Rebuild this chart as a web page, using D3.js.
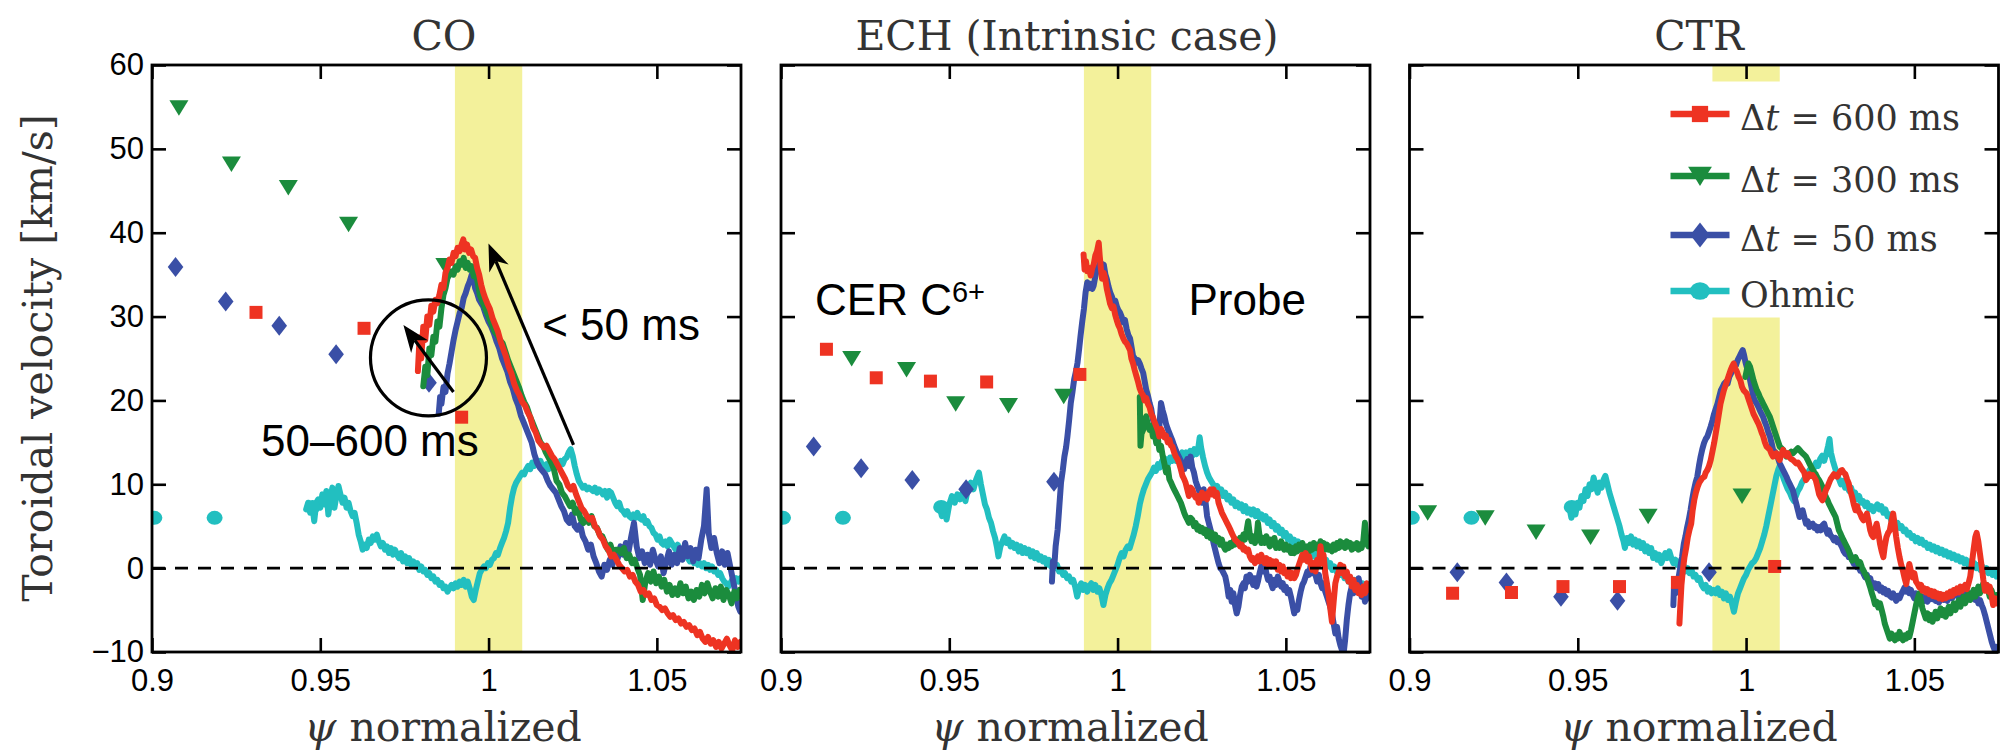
<!DOCTYPE html>
<html>
<head>
<meta charset="utf-8">
<script src="https://cdn.jsdelivr.net/npm/d3@7"></script>
<style>
  body { margin: 0; background: #fff; }
  svg { display: block; }
</style>
</head>
<body>
<svg id="chart" width="2004" height="753"></svg>
<script>
// ---------- axes, labels ----------
const psiDomain = [0.9, 1.075];
const velDomain = [-10, 60];
const xTickValues = [0.9, 0.95, 1, 1.05];
const xTickLabels = ["0.9", "0.95", "1", "1.05"];
const yTickValues = [-10, 0, 10, 20, 30, 40, 50, 60];
const separatrixBand = [0.99, 1.01];
const panelTitles = ["CO", "ECH (Intrinsic case)", "CTR"];
const legendLabels = [["600 ms"], ["300 ms"], ["50 ms"], ["Ohmic"]];

// ---------- CER C6+ points (psi, km/s) ----------
const coCer600 = [[0.9309,30.5],[0.9630,28.6],[0.9920,18.0]];
const coCer300 = [[0.9080,54.9],[0.9236,48.2],[0.9405,45.4],[0.9584,41.0],[0.9870,36.1]];
const coCer50 = [[0.9070,35.9],[0.9219,31.8],[0.9378,28.9],[0.9547,25.5],[0.9823,22.1]];
const coCerOhmic = [[0.9007,6.0],[0.9186,6.0],[0.9477,7.3]];

const echCer600 = [[0.9135,26.1],[0.9283,22.7],[0.9444,22.3],[0.9611,22.2],[0.9888,23.1]];
const echCer300 = [[0.9210,25.0],[0.9373,23.7],[0.9519,19.6],[0.9676,19.4],[0.9840,20.5]];
const echCer50 = [[0.9097,14.5],[0.9238,11.9],[0.9390,10.5],[0.9550,9.4],[0.9811,10.3]];
const echCerOhmic = [[0.9006,6.0],[0.9184,6.0],[0.9476,7.3]];

const ctrCer600 = [[0.9128,-3.0],[0.9303,-2.9],[0.9456,-2.2],[0.9624,-2.2],[0.9796,-1.7],[1.0085,0.2]];
const ctrCer300 = [[0.9054,6.6],[0.9225,6.0],[0.9376,4.3],[0.9538,3.7],[0.9709,6.2],[0.9988,8.6]];
const ctrCer50 = [[0.9142,-0.5],[0.9288,-1.7],[0.9450,-3.4],[0.9618,-3.9],[0.9890,-0.5]];
const ctrCerOhmic = [[0.9007,6.0],[0.9184,6.0],[0.9482,7.3]];

// ---------- probe profiles (psi, km/s) ----------
const coProbe600 = [[0.9790,23.5],[0.9795,27.5],[0.9800,25.0],[0.9806,28.8],[0.9812,27.2],[0.9818,30.0],[0.9824,29.0],[0.9830,31.3],[0.9836,30.6],[0.9842,32.0],[0.9848,31.6],[0.9854,32.6],[0.9860,33.8],[0.9866,33.4],[0.9872,35.2],[0.9878,35.8],[0.9884,36.8],[0.9890,36.4],[0.9896,37.6],[0.9902,37.2],[0.9908,38.2],[0.9914,37.8],[0.9920,38.6],[0.9925,39.2],[0.9930,38.0],[0.9936,38.6],[0.9942,37.6],[0.9948,38.0],[0.9954,37.2],[0.9960,37.0],[0.9966,35.8],[0.9972,35.0],[0.9978,33.8],[0.9984,32.9],[0.9990,32.2],[0.9996,31.6],[1.0004,30.9],[1.0012,29.8],[1.0020,29.0],[1.0028,28.2],[1.0036,27.0],[1.0044,26.1],[1.0052,25.2],[1.0060,24.0],[1.0068,23.2],[1.0076,22.0],[1.0084,21.2],[1.0092,20.6],[1.0100,19.8],[1.0108,19.4],[1.0116,18.6],[1.0124,18.0],[1.0132,16.8],[1.0140,16.2],[1.0148,15.2],[1.0156,14.8],[1.0164,14.4],[1.0172,14.6],[1.0180,14.0],[1.0188,13.4],[1.0196,13.0],[1.0204,12.4],[1.0212,11.8],[1.0220,11.2],[1.0228,10.6],[1.0236,9.8],[1.0244,9.4],[1.0252,9.8],[1.0260,8.8],[1.0268,8.0],[1.0276,7.2],[1.0284,6.8],[1.0292,6.2],[1.0300,5.8],[1.0308,6.0],[1.0316,5.0],[1.0324,4.6],[1.0332,3.8],[1.0340,3.4],[1.0348,2.6],[1.0356,2.2],[1.0364,1.4],[1.0372,1.6],[1.0380,1.0],[1.0388,0.4],[1.0396,0.0],[1.0404,-0.4],[1.0412,-0.2],[1.0420,-1.0],[1.0428,-0.8],[1.0436,-1.6],[1.0444,-2.0],[1.0452,-2.8],[1.0460,-2.6],[1.0468,-3.2],[1.0476,-3.0],[1.0484,-3.8],[1.0492,-3.6],[1.0500,-4.4],[1.0508,-4.6],[1.0516,-5.0],[1.0524,-4.8],[1.0532,-5.4],[1.0540,-5.8],[1.0548,-5.6],[1.0556,-6.2],[1.0564,-6.0],[1.0572,-6.6],[1.0580,-6.4],[1.0588,-7.0],[1.0596,-6.8],[1.0604,-7.4],[1.0612,-7.2],[1.0620,-8.0],[1.0628,-7.6],[1.0636,-8.4],[1.0644,-8.8],[1.0652,-8.2],[1.0660,-9.0],[1.0668,-8.6],[1.0676,-9.4],[1.0684,-8.8],[1.0692,-9.6],[1.0700,-9.0],[1.0708,-8.4],[1.0716,-9.2],[1.0724,-9.8],[1.0732,-8.6],[1.0740,-9.4],[1.0748,-8.8]];

const coProbe300 = [[0.9806,21.7],[0.9812,24.0],[0.9818,23.0],[0.9824,26.2],[0.9830,25.4],[0.9836,27.6],[0.9842,27.0],[0.9848,29.4],[0.9854,28.8],[0.9860,31.0],[0.9866,32.6],[0.9872,33.4],[0.9878,34.6],[0.9884,35.0],[0.9890,35.4],[0.9896,35.0],[0.9902,36.0],[0.9908,35.6],[0.9914,36.6],[0.9920,36.2],[0.9926,37.0],[0.9932,35.8],[0.9938,36.4],[0.9944,35.6],[0.9950,36.0],[0.9956,34.8],[0.9962,35.2],[0.9968,34.0],[0.9974,32.6],[0.9980,32.0],[0.9986,31.4],[0.9994,30.6],[1.0002,29.8],[1.0010,29.0],[1.0018,28.2],[1.0026,27.8],[1.0034,27.2],[1.0042,26.8],[1.0050,25.8],[1.0058,24.8],[1.0066,24.0],[1.0074,23.2],[1.0082,22.4],[1.0090,21.6],[1.0098,20.6],[1.0106,19.8],[1.0114,19.2],[1.0122,18.2],[1.0130,17.4],[1.0138,16.6],[1.0146,15.8],[1.0154,15.0],[1.0162,14.6],[1.0170,13.8],[1.0178,13.2],[1.0186,12.6],[1.0194,11.8],[1.0202,10.4],[1.0210,10.0],[1.0218,9.0],[1.0226,8.6],[1.0234,8.0],[1.0242,7.4],[1.0250,7.8],[1.0258,6.6],[1.0266,7.0],[1.0274,5.8],[1.0282,5.4],[1.0290,6.0],[1.0298,5.4],[1.0306,6.2],[1.0314,5.0],[1.0322,4.8],[1.0330,4.0],[1.0338,3.8],[1.0346,3.0],[1.0354,2.2],[1.0362,2.8],[1.0370,1.8],[1.0378,2.2],[1.0386,2.2],[1.0394,1.8],[1.0402,2.4],[1.0410,1.2],[1.0418,1.6],[1.0426,0.6],[1.0434,1.0],[1.0442,0.0],[1.0450,-0.8],[1.0458,-3.8],[1.0466,-1.6],[1.0474,-0.6],[1.0482,-1.6],[1.0490,-0.4],[1.0498,-1.8],[1.0506,-1.0],[1.0514,-2.2],[1.0522,-1.4],[1.0530,-2.8],[1.0538,-2.0],[1.0546,-3.2],[1.0554,-2.4],[1.0562,-3.2],[1.0570,-1.8],[1.0578,-3.0],[1.0586,-2.2],[1.0594,-3.6],[1.0602,-2.8],[1.0610,-3.8],[1.0618,-2.6],[1.0626,-3.4],[1.0634,-2.0],[1.0642,-3.0],[1.0650,-1.8],[1.0658,-2.8],[1.0666,-3.6],[1.0674,-2.4],[1.0682,-3.4],[1.0690,-2.2],[1.0698,-3.8],[1.0706,-2.6],[1.0714,-3.2],[1.0722,-4.2],[1.0730,-2.8],[1.0738,-3.6],[1.0746,-2.6]];

const coProbe50 = [[0.9852,18.4],[0.9856,20.4],[0.9860,19.6],[0.9866,21.6],[0.9872,21.0],[0.9878,23.2],[0.9884,24.4],[0.9890,25.8],[0.9896,27.2],[0.9902,28.4],[0.9908,29.4],[0.9914,30.4],[0.9920,31.0],[0.9926,32.2],[0.9932,32.8],[0.9938,33.6],[0.9944,34.2],[0.9950,35.0],[0.9955,34.6],[0.9960,33.4],[0.9966,32.8],[0.9972,32.0],[0.9978,31.6],[0.9984,31.2],[0.9992,30.2],[1.0000,29.4],[1.0008,28.8],[1.0016,28.0],[1.0024,27.0],[1.0032,26.2],[1.0040,25.0],[1.0048,24.2],[1.0056,23.4],[1.0064,22.2],[1.0072,21.4],[1.0080,20.2],[1.0088,19.4],[1.0096,18.2],[1.0104,17.4],[1.0112,16.6],[1.0120,15.8],[1.0128,15.0],[1.0136,13.6],[1.0144,12.6],[1.0152,12.0],[1.0160,11.6],[1.0168,11.2],[1.0176,10.4],[1.0184,9.8],[1.0192,9.4],[1.0200,9.0],[1.0208,8.2],[1.0216,7.4],[1.0224,6.8],[1.0232,5.8],[1.0240,5.4],[1.0248,6.4],[1.0256,5.0],[1.0264,4.6],[1.0272,5.2],[1.0280,3.8],[1.0288,3.2],[1.0296,2.2],[1.0304,2.8],[1.0312,1.4],[1.0320,0.6],[1.0328,-0.4],[1.0336,-1.0],[1.0344,0.4],[1.0352,-0.2],[1.0360,1.0],[1.0368,0.4],[1.0376,1.8],[1.0384,1.2],[1.0392,2.6],[1.0400,1.6],[1.0408,3.0],[1.0416,2.0],[1.0424,3.8],[1.0432,5.4],[1.0440,2.6],[1.0448,1.2],[1.0456,2.0],[1.0464,0.6],[1.0472,1.6],[1.0480,0.4],[1.0488,2.2],[1.0496,1.0],[1.0504,0.2],[1.0512,1.4],[1.0520,-0.6],[1.0528,0.8],[1.0536,2.0],[1.0544,0.4],[1.0552,1.6],[1.0560,0.6],[1.0568,2.4],[1.0576,1.0],[1.0584,3.0],[1.0592,1.4],[1.0600,2.4],[1.0608,0.8],[1.0616,2.2],[1.0624,1.2],[1.0632,3.4],[1.0640,5.0],[1.0648,9.4],[1.0654,4.2],[1.0662,2.4],[1.0670,3.6],[1.0678,1.8],[1.0686,0.6],[1.0694,2.0],[1.0702,0.4],[1.0710,1.8],[1.0718,0.2],[1.0726,-1.4],[1.0734,-3.0],[1.0742,-4.6],[1.0748,-5.2]];

const coProbeOhmic = [[0.9458,7.0],[0.9464,7.8],[0.9470,6.6],[0.9476,7.6],[0.9482,5.6],[0.9488,7.8],[0.9494,8.2],[0.9500,7.2],[0.9506,8.8],[0.9512,7.6],[0.9518,9.2],[0.9524,6.4],[0.9530,8.4],[0.9536,9.6],[0.9542,7.2],[0.9548,8.6],[0.9554,9.8],[0.9560,8.8],[0.9566,7.8],[0.9572,8.4],[0.9578,7.2],[0.9584,7.8],[0.9590,6.8],[0.9596,6.2],[0.9602,6.6],[0.9608,5.4],[0.9614,4.0],[0.9620,3.2],[0.9626,2.2],[0.9632,2.8],[0.9638,2.4],[0.9644,3.4],[0.9650,3.0],[0.9656,3.8],[0.9662,3.4],[0.9668,4.0],[0.9674,3.2],[0.9680,2.6],[0.9686,3.0],[0.9692,2.2],[0.9698,2.6],[0.9704,1.8],[0.9710,2.4],[0.9716,1.6],[0.9722,2.2],[0.9728,1.6],[0.9734,1.2],[0.9740,1.8],[0.9746,0.8],[0.9752,1.4],[0.9758,0.6],[0.9764,1.2],[0.9770,0.4],[0.9776,0.8],[0.9782,0.2],[0.9788,0.6],[0.9794,-0.2],[0.9800,0.2],[0.9806,-0.4],[0.9812,-0.2],[0.9818,-0.8],[0.9824,-0.6],[0.9830,-1.2],[0.9836,-1.0],[0.9842,-1.6],[0.9848,-1.4],[0.9854,-2.0],[0.9860,-1.8],[0.9866,-2.4],[0.9872,-2.2],[0.9878,-2.8],[0.9884,-2.4],[0.9890,-2.0],[0.9896,-2.4],[0.9902,-1.8],[0.9908,-2.2],[0.9914,-1.6],[0.9920,-2.0],[0.9926,-1.4],[0.9932,-2.2],[0.9938,-1.6],[0.9944,-2.4],[0.9950,-3.4],[0.9956,-3.8],[0.9962,-2.6],[0.9968,-1.6],[0.9974,-0.6],[0.9980,-0.2],[0.9986,0.2],[0.9992,0.0],[0.9998,0.6],[1.0004,0.4],[1.0010,1.0],[1.0016,1.2],[1.0022,1.8],[1.0028,1.6],[1.0034,2.4],[1.0040,3.0],[1.0046,3.6],[1.0052,4.4],[1.0058,5.4],[1.0064,7.2],[1.0070,8.6],[1.0076,9.6],[1.0082,10.2],[1.0088,10.6],[1.0094,11.0],[1.0100,11.4],[1.0106,11.2],[1.0112,11.8],[1.0118,12.2],[1.0124,11.8],[1.0130,12.6],[1.0136,12.2],[1.0142,12.9],[1.0148,12.4],[1.0154,12.8],[1.0160,12.2],[1.0166,12.0],[1.0172,12.4],[1.0178,11.8],[1.0184,12.0],[1.0190,12.4],[1.0196,12.0],[1.0202,12.6],[1.0208,12.2],[1.0214,12.8],[1.0220,12.4],[1.0226,13.0],[1.0232,13.2],[1.0238,13.8],[1.0244,14.2],[1.0250,13.4],[1.0256,12.2],[1.0262,11.2],[1.0268,10.4],[1.0274,10.0],[1.0280,9.6],[1.0286,9.8],[1.0292,9.4],[1.0298,9.6],[1.0304,9.4],[1.0310,9.2],[1.0316,9.6],[1.0322,9.0],[1.0328,9.4],[1.0334,9.2],[1.0340,8.8],[1.0346,9.2],[1.0352,8.4],[1.0358,9.2],[1.0364,9.0],[1.0370,8.4],[1.0376,7.8],[1.0382,7.4],[1.0388,7.8],[1.0394,7.0],[1.0400,6.8],[1.0406,6.4],[1.0412,6.8],[1.0418,6.2],[1.0424,6.0],[1.0430,6.4],[1.0436,6.0],[1.0442,6.6],[1.0448,6.0],[1.0454,5.8],[1.0460,6.2],[1.0466,5.4],[1.0472,5.6],[1.0478,5.0],[1.0484,4.8],[1.0490,4.2],[1.0496,4.0],[1.0502,3.4],[1.0508,3.8],[1.0514,3.0],[1.0520,2.8],[1.0526,3.2],[1.0532,2.6],[1.0538,3.4],[1.0544,3.0],[1.0550,2.6],[1.0556,2.2],[1.0562,2.8],[1.0568,2.2],[1.0574,1.8],[1.0580,2.2],[1.0586,1.6],[1.0592,1.2],[1.0598,0.8],[1.0604,1.2],[1.0610,0.6],[1.0616,1.0],[1.0622,0.4],[1.0628,0.6],[1.0634,0.2],[1.0640,0.6],[1.0646,0.0],[1.0652,0.4],[1.0658,-0.2],[1.0664,0.2],[1.0670,-0.4],[1.0676,-0.2],[1.0682,-0.8],[1.0688,-0.6],[1.0694,-1.2],[1.0700,-1.6],[1.0706,-1.8],[1.0712,-2.2],[1.0718,-1.8],[1.0724,-1.4],[1.0730,-1.8],[1.0736,-1.2],[1.0742,-1.6],[1.0748,-1.2]];

const echProbe600 = [[0.9899,37.4],[0.9902,35.6],[0.9906,36.6],[0.9910,35.4],[0.9915,35.8],[0.9920,34.9],[0.9925,35.8],[0.9929,36.2],[0.9934,37.3],[0.9939,37.8],[0.9944,38.8],[0.9947,37.2],[0.9950,35.9],[0.9954,34.5],[0.9959,35.2],[0.9963,34.6],[0.9968,33.3],[0.9973,32.4],[0.9978,31.5],[0.9983,31.0],[0.9988,31.2],[0.9993,30.2],[0.9998,29.5],[1.0002,29.0],[1.0007,28.6],[1.0012,27.9],[1.0017,27.4],[1.0022,27.0],[1.0027,26.8],[1.0032,26.4],[1.0037,26.0],[1.0041,25.0],[1.0046,24.4],[1.0051,23.6],[1.0056,22.9],[1.0061,22.2],[1.0066,21.4],[1.0071,20.9],[1.0076,20.6],[1.0080,20.0],[1.0085,20.3],[1.0090,19.6],[1.0095,19.2],[1.0100,18.4],[1.0105,18.0],[1.0110,17.4],[1.0115,16.9],[1.0120,16.4],[1.0124,15.7],[1.0129,16.6],[1.0134,16.2],[1.0139,15.6],[1.0144,15.8],[1.0149,15.0],[1.0154,15.3],[1.0159,14.6],[1.0163,14.5],[1.0168,13.8],[1.0173,13.3],[1.0178,13.0],[1.0183,12.5],[1.0188,11.8],[1.0193,11.0],[1.0198,10.6],[1.0202,10.2],[1.0207,9.4],[1.0212,8.6],[1.0217,9.6],[1.0222,9.4],[1.0227,8.8],[1.0232,8.4],[1.0237,8.6],[1.0241,7.8],[1.0246,8.4],[1.0251,9.0],[1.0256,8.4],[1.0261,8.8],[1.0266,8.2],[1.0271,9.0],[1.0276,9.4],[1.0280,8.8],[1.0285,9.4],[1.0290,8.6],[1.0295,9.0],[1.0300,7.8],[1.0305,7.2],[1.0310,6.6],[1.0315,6.2],[1.0320,5.8],[1.0325,5.4],[1.0330,5.0],[1.0335,4.6],[1.0339,4.2],[1.0344,3.8],[1.0349,3.4],[1.0354,3.2],[1.0359,3.0],[1.0364,2.6],[1.0369,2.8],[1.0374,2.2],[1.0378,2.4],[1.0383,2.0],[1.0388,2.2],[1.0393,1.4],[1.0398,1.0],[1.0403,1.2],[1.0408,0.6],[1.0413,1.0],[1.0417,1.4],[1.0422,0.8],[1.0427,1.6],[1.0432,1.0],[1.0437,0.6],[1.0442,1.2],[1.0447,0.4],[1.0452,1.0],[1.0456,0.2],[1.0461,0.8],[1.0466,0.2],[1.0471,0.8],[1.0476,-0.2],[1.0481,0.4],[1.0486,-0.4],[1.0491,0.2],[1.0495,-0.6],[1.0500,-0.2],[1.0505,-1.0],[1.0510,-0.4],[1.0515,-1.2],[1.0520,-0.6],[1.0525,-1.2],[1.0530,-0.8],[1.0534,-0.2],[1.0539,0.4],[1.0544,1.0],[1.0549,1.6],[1.0554,1.0],[1.0559,1.8],[1.0564,0.8],[1.0569,1.4],[1.0573,0.6],[1.0578,-0.2],[1.0583,0.6],[1.0588,-0.4],[1.0593,1.0],[1.0598,0.4],[1.0603,2.6],[1.0608,0.8],[1.0612,1.6],[1.0617,-0.6],[1.0622,-1.8],[1.0627,-3.2],[1.0632,-4.8],[1.0637,-6.4],[1.0642,-4.0],[1.0647,-1.8],[1.0652,-1.0],[1.0657,-0.4],[1.0662,0.4],[1.0667,-0.6],[1.0671,0.2],[1.0676,-1.0],[1.0681,-0.4],[1.0686,-1.6],[1.0691,-1.0],[1.0696,-2.2],[1.0701,-1.4],[1.0706,-2.6],[1.0711,-2.0],[1.0716,-3.0],[1.0720,-2.4],[1.0725,-3.2],[1.0730,-2.2],[1.0735,-3.0],[1.0740,-1.8],[1.0745,-2.6],[1.0750,-2.0]];

const echProbe300 = [[1.0066,20.4],[1.0068,14.6],[1.0071,16.0],[1.0076,16.5],[1.0080,17.6],[1.0085,18.1],[1.0090,17.0],[1.0095,16.5],[1.0100,17.0],[1.0105,15.7],[1.0110,16.2],[1.0115,14.9],[1.0120,15.4],[1.0124,14.1],[1.0129,14.6],[1.0134,13.4],[1.0139,12.5],[1.0144,11.4],[1.0149,12.0],[1.0154,10.6],[1.0159,10.2],[1.0163,9.8],[1.0168,9.4],[1.0173,9.0],[1.0178,8.6],[1.0183,8.2],[1.0188,7.8],[1.0193,7.2],[1.0198,6.6],[1.0202,6.2],[1.0207,5.8],[1.0212,5.4],[1.0217,6.0],[1.0222,5.8],[1.0227,5.0],[1.0232,5.4],[1.0237,4.6],[1.0241,5.0],[1.0246,4.4],[1.0251,4.8],[1.0256,4.2],[1.0261,4.6],[1.0266,3.8],[1.0271,4.4],[1.0276,3.6],[1.0280,4.2],[1.0285,3.4],[1.0290,4.0],[1.0295,3.2],[1.0300,3.6],[1.0305,2.8],[1.0310,3.4],[1.0315,2.6],[1.0320,2.2],[1.0325,2.8],[1.0330,2.4],[1.0335,3.0],[1.0339,2.6],[1.0344,3.2],[1.0349,2.8],[1.0354,3.4],[1.0359,3.0],[1.0364,3.6],[1.0369,3.2],[1.0374,4.0],[1.0378,3.4],[1.0383,4.4],[1.0388,5.6],[1.0393,4.0],[1.0398,3.2],[1.0403,3.8],[1.0408,3.0],[1.0413,3.6],[1.0417,5.4],[1.0422,3.8],[1.0427,3.0],[1.0432,3.6],[1.0437,3.0],[1.0442,3.8],[1.0447,3.2],[1.0452,2.6],[1.0456,3.4],[1.0461,2.8],[1.0466,3.6],[1.0471,2.4],[1.0476,3.0],[1.0481,2.4],[1.0486,3.2],[1.0491,2.6],[1.0495,2.2],[1.0500,2.8],[1.0505,2.2],[1.0510,2.6],[1.0515,1.8],[1.0520,2.4],[1.0525,1.8],[1.0530,2.6],[1.0534,2.0],[1.0539,2.8],[1.0544,2.2],[1.0549,3.0],[1.0554,2.4],[1.0559,2.0],[1.0564,2.6],[1.0569,2.0],[1.0573,2.8],[1.0578,2.2],[1.0583,3.0],[1.0588,2.4],[1.0593,2.8],[1.0598,2.2],[1.0603,3.2],[1.0608,2.6],[1.0612,3.0],[1.0617,2.2],[1.0622,2.8],[1.0627,2.2],[1.0632,2.6],[1.0637,2.0],[1.0642,2.8],[1.0647,2.2],[1.0652,3.0],[1.0657,2.4],[1.0662,3.2],[1.0667,2.6],[1.0671,3.0],[1.0676,2.4],[1.0681,3.2],[1.0686,2.6],[1.0691,3.0],[1.0696,2.2],[1.0701,2.8],[1.0706,2.4],[1.0711,3.0],[1.0716,2.2],[1.0720,2.8],[1.0725,2.4],[1.0730,3.2],[1.0735,5.4],[1.0740,3.0],[1.0745,2.6],[1.0750,3.2]];

const echProbe50 = [[0.9805,-1.6],[0.9808,0.8],[0.9812,0.2],[0.9816,2.6],[0.9822,4.6],[0.9827,7.4],[0.9832,10.2],[0.9837,11.6],[0.9842,13.3],[0.9847,14.4],[0.9851,15.7],[0.9856,17.6],[0.9861,19.7],[0.9866,21.0],[0.9871,22.5],[0.9876,23.4],[0.9881,24.5],[0.9886,26.2],[0.9890,27.7],[0.9895,29.4],[0.9900,30.9],[0.9905,32.9],[0.9910,34.1],[0.9915,33.4],[0.9920,33.9],[0.9925,33.3],[0.9929,33.7],[0.9934,34.8],[0.9939,35.7],[0.9944,36.0],[0.9949,36.5],[0.9954,35.8],[0.9959,36.2],[0.9964,35.0],[0.9968,34.5],[0.9973,33.6],[0.9978,32.9],[0.9983,32.4],[0.9988,31.7],[0.9993,31.9],[0.9998,31.2],[1.0002,30.8],[1.0007,30.5],[1.0012,30.0],[1.0017,29.3],[1.0022,29.6],[1.0027,28.5],[1.0032,27.8],[1.0037,27.4],[1.0041,26.5],[1.0046,25.3],[1.0051,25.0],[1.0056,24.5],[1.0061,24.8],[1.0066,24.4],[1.0071,23.8],[1.0076,23.3],[1.0080,22.4],[1.0085,21.3],[1.0090,20.6],[1.0095,19.7],[1.0100,19.0],[1.0105,17.7],[1.0110,17.2],[1.0115,16.6],[1.0120,16.1],[1.0124,16.8],[1.0129,19.7],[1.0134,18.8],[1.0139,18.1],[1.0144,17.2],[1.0149,16.6],[1.0154,16.1],[1.0159,15.6],[1.0163,15.2],[1.0168,14.6],[1.0173,14.1],[1.0178,13.6],[1.0183,13.2],[1.0188,12.8],[1.0193,12.2],[1.0198,11.8],[1.0202,12.4],[1.0207,13.0],[1.0212,12.2],[1.0217,13.3],[1.0222,12.0],[1.0227,11.4],[1.0232,10.4],[1.0237,9.8],[1.0241,9.4],[1.0246,8.6],[1.0251,7.8],[1.0256,9.4],[1.0261,8.0],[1.0266,6.2],[1.0271,5.4],[1.0276,4.6],[1.0280,4.0],[1.0285,3.0],[1.0290,2.2],[1.0295,1.4],[1.0300,0.6],[1.0305,0.0],[1.0310,-0.2],[1.0315,-0.6],[1.0320,-1.0],[1.0325,-2.0],[1.0330,-3.4],[1.0335,-2.6],[1.0339,-4.0],[1.0344,-3.0],[1.0349,-4.4],[1.0354,-5.4],[1.0359,-4.6],[1.0364,-3.2],[1.0369,-2.2],[1.0374,-1.8],[1.0378,-2.4],[1.0383,-1.0],[1.0388,-1.6],[1.0393,-0.8],[1.0398,-1.2],[1.0403,-2.0],[1.0408,-1.2],[1.0413,-2.2],[1.0417,-1.6],[1.0422,-0.6],[1.0427,0.2],[1.0432,-0.4],[1.0437,0.6],[1.0442,-0.6],[1.0447,-1.4],[1.0452,-1.0],[1.0456,-1.8],[1.0461,-2.4],[1.0466,-1.4],[1.0471,-2.0],[1.0476,-1.0],[1.0481,-1.6],[1.0486,-2.2],[1.0491,-1.8],[1.0495,-2.6],[1.0500,-2.2],[1.0505,-3.0],[1.0510,-2.6],[1.0515,-3.4],[1.0520,-4.4],[1.0525,-5.4],[1.0530,-4.6],[1.0534,-5.0],[1.0539,-3.8],[1.0544,-2.8],[1.0549,-2.0],[1.0554,-1.6],[1.0559,-1.0],[1.0564,-0.4],[1.0569,-0.8],[1.0573,0.2],[1.0578,-0.6],[1.0583,0.0],[1.0588,-0.8],[1.0593,-1.6],[1.0598,-0.8],[1.0603,-1.8],[1.0608,-2.4],[1.0612,-1.8],[1.0617,-2.8],[1.0622,-3.4],[1.0627,-4.0],[1.0632,-4.6],[1.0637,-5.4],[1.0642,-6.6],[1.0647,-7.8],[1.0652,-7.0],[1.0657,-8.4],[1.0662,-9.2],[1.0667,-9.8],[1.0671,-10.4],[1.0676,-8.6],[1.0681,-6.2],[1.0686,-4.4],[1.0691,-3.0],[1.0696,-2.2],[1.0701,-3.0],[1.0706,-1.8],[1.0711,-2.6],[1.0716,-1.2],[1.0720,-2.0],[1.0725,-3.4],[1.0730,-2.4],[1.0735,-4.0],[1.0740,-3.0],[1.0745,-3.6],[1.0750,-2.8]];

const echProbeOhmic = [[0.9471,7.4],[0.9478,6.2],[0.9485,7.0],[0.9492,5.8],[0.9500,7.6],[0.9508,8.6],[0.9516,7.8],[0.9524,8.8],[0.9532,8.2],[0.9540,9.0],[0.9548,8.0],[0.9556,9.6],[0.9564,10.2],[0.9572,9.4],[0.9580,10.6],[0.9588,11.4],[0.9594,10.0],[0.9600,8.8],[0.9606,7.6],[0.9612,7.0],[0.9618,6.0],[0.9624,5.4],[0.9630,4.4],[0.9636,3.6],[0.9642,2.4],[0.9646,1.4],[0.9652,2.6],[0.9658,3.2],[0.9664,3.8],[0.9670,3.0],[0.9676,3.4],[0.9682,2.6],[0.9688,3.0],[0.9694,2.4],[0.9700,2.8],[0.9706,2.0],[0.9712,2.6],[0.9718,1.8],[0.9724,2.4],[0.9730,1.8],[0.9736,2.2],[0.9742,1.4],[0.9748,2.0],[0.9754,1.2],[0.9760,1.8],[0.9766,1.0],[0.9772,1.4],[0.9778,0.8],[0.9784,1.2],[0.9790,0.4],[0.9796,1.0],[0.9802,0.2],[0.9808,0.8],[0.9814,0.0],[0.9820,0.4],[0.9826,-0.4],[0.9832,-0.2],[0.9838,-0.8],[0.9844,-0.6],[0.9850,-1.2],[0.9856,-1.0],[0.9862,-1.6],[0.9868,-1.4],[0.9874,-2.2],[0.9880,-3.4],[0.9886,-2.4],[0.9892,-1.8],[0.9898,-2.6],[0.9904,-2.0],[0.9910,-2.8],[0.9916,-2.2],[0.9922,-1.8],[0.9928,-2.6],[0.9934,-2.0],[0.9940,-2.8],[0.9946,-2.4],[0.9952,-3.2],[0.9958,-4.4],[0.9964,-3.2],[0.9970,-2.4],[0.9976,-1.8],[0.9982,-1.4],[0.9988,-0.8],[0.9994,-0.2],[1.0000,0.4],[1.0006,1.2],[1.0012,1.8],[1.0018,1.4],[1.0024,2.2],[1.0030,2.6],[1.0036,2.4],[1.0042,3.2],[1.0048,4.0],[1.0054,5.0],[1.0060,6.2],[1.0066,7.6],[1.0072,8.6],[1.0078,9.4],[1.0084,10.0],[1.0090,10.6],[1.0096,11.0],[1.0102,11.4],[1.0108,12.0],[1.0114,11.6],[1.0120,12.4],[1.0126,12.0],[1.0132,12.8],[1.0138,12.2],[1.0144,13.0],[1.0150,12.4],[1.0156,13.2],[1.0162,12.8],[1.0168,13.4],[1.0174,12.8],[1.0180,13.6],[1.0186,13.0],[1.0192,13.8],[1.0198,13.2],[1.0204,13.8],[1.0210,13.4],[1.0216,14.0],[1.0222,13.4],[1.0228,14.2],[1.0234,13.6],[1.0240,14.4],[1.0244,15.6],[1.0248,14.4],[1.0254,13.2],[1.0260,12.2],[1.0266,11.4],[1.0272,10.8],[1.0278,10.4],[1.0284,10.0],[1.0290,9.4],[1.0296,9.8],[1.0302,9.0],[1.0308,9.4],[1.0314,8.6],[1.0320,9.0],[1.0326,8.2],[1.0332,8.6],[1.0338,7.8],[1.0344,8.2],[1.0350,7.4],[1.0356,7.8],[1.0362,7.2],[1.0368,7.6],[1.0374,6.8],[1.0380,7.4],[1.0386,6.6],[1.0392,7.0],[1.0398,6.4],[1.0404,7.0],[1.0410,6.2],[1.0416,6.8],[1.0422,6.0],[1.0428,6.4],[1.0434,5.8],[1.0440,6.2],[1.0446,5.4],[1.0452,5.8],[1.0458,5.0],[1.0464,5.4],[1.0470,4.6],[1.0476,5.0],[1.0482,4.2],[1.0488,4.6],[1.0494,3.8],[1.0500,4.2],[1.0506,3.4],[1.0512,3.8],[1.0518,3.0],[1.0524,3.4],[1.0530,2.8],[1.0536,3.2],[1.0542,2.4],[1.0548,2.8],[1.0554,2.0],[1.0560,2.4],[1.0566,1.8],[1.0572,2.2],[1.0578,1.4],[1.0584,1.8],[1.0590,1.2],[1.0596,1.6],[1.0602,0.8],[1.0608,1.2],[1.0614,0.6],[1.0620,1.0],[1.0626,0.2],[1.0632,0.6],[1.0638,-0.2],[1.0644,0.2],[1.0650,-0.4],[1.0656,0.0],[1.0662,-0.8],[1.0668,-0.4],[1.0674,-1.2],[1.0680,-0.8],[1.0686,-1.6],[1.0692,-1.2],[1.0698,-2.0],[1.0704,-1.4],[1.0710,-2.2],[1.0716,-1.6],[1.0722,-2.4],[1.0728,-1.8],[1.0734,-2.6],[1.0740,-2.0],[1.0746,-2.8],[1.0750,-2.2]];

const ctrProbe600 = [[0.9802,-6.6],[0.9805,-4.2],[0.9808,-2.0],[0.9812,-0.3],[0.9817,1.3],[0.9822,2.4],[0.9827,3.7],[0.9832,4.6],[0.9837,5.3],[0.9841,6.8],[0.9846,8.1],[0.9851,9.0],[0.9856,9.7],[0.9861,10.2],[0.9866,10.5],[0.9871,10.8],[0.9876,10.9],[0.9880,11.4],[0.9885,11.7],[0.9890,12.2],[0.9895,12.9],[0.9900,13.9],[0.9905,14.9],[0.9910,16.1],[0.9915,17.3],[0.9920,18.6],[0.9924,19.6],[0.9929,20.4],[0.9934,21.2],[0.9939,21.8],[0.9944,22.4],[0.9949,23.0],[0.9954,23.6],[0.9958,24.0],[0.9963,24.4],[0.9968,23.8],[0.9973,23.4],[0.9978,22.8],[0.9983,22.4],[0.9988,21.6],[0.9993,21.2],[0.9998,21.0],[1.0002,20.8],[1.0007,20.2],[1.0012,19.6],[1.0017,19.0],[1.0022,18.4],[1.0027,18.0],[1.0032,17.6],[1.0037,17.2],[1.0041,16.8],[1.0046,16.2],[1.0051,15.7],[1.0056,15.0],[1.0061,14.5],[1.0066,14.3],[1.0071,14.1],[1.0076,13.6],[1.0080,13.3],[1.0085,13.6],[1.0090,13.7],[1.0095,13.2],[1.0100,12.9],[1.0105,13.6],[1.0110,14.1],[1.0115,13.6],[1.0120,13.4],[1.0124,13.7],[1.0129,13.2],[1.0134,13.0],[1.0139,12.9],[1.0144,12.7],[1.0149,12.5],[1.0154,12.6],[1.0159,12.3],[1.0163,12.0],[1.0168,11.7],[1.0173,11.4],[1.0178,10.5],[1.0183,10.8],[1.0188,11.2],[1.0193,11.0],[1.0198,11.1],[1.0203,10.8],[1.0207,10.5],[1.0212,9.7],[1.0217,8.8],[1.0222,8.4],[1.0227,8.1],[1.0232,8.6],[1.0237,9.3],[1.0242,9.7],[1.0246,10.1],[1.0251,10.6],[1.0256,10.9],[1.0261,11.2],[1.0266,11.0],[1.0271,10.9],[1.0276,11.3],[1.0281,11.6],[1.0285,11.7],[1.0290,11.4],[1.0295,11.2],[1.0300,10.6],[1.0305,10.1],[1.0310,9.2],[1.0315,8.5],[1.0320,7.6],[1.0325,6.9],[1.0330,7.4],[1.0334,6.8],[1.0339,6.5],[1.0344,6.0],[1.0349,5.7],[1.0354,6.0],[1.0359,6.5],[1.0364,5.6],[1.0369,4.5],[1.0373,4.0],[1.0378,3.7],[1.0383,4.6],[1.0388,5.3],[1.0393,4.2],[1.0398,2.9],[1.0403,2.0],[1.0408,1.3],[1.0412,2.6],[1.0417,3.7],[1.0422,4.2],[1.0427,4.5],[1.0432,5.6],[1.0437,6.5],[1.0442,5.0],[1.0446,3.7],[1.0451,2.4],[1.0456,1.3],[1.0461,0.4],[1.0466,-0.3],[1.0471,-1.2],[1.0476,-1.9],[1.0481,-0.6],[1.0485,0.5],[1.0490,-0.4],[1.0495,-1.1],[1.0500,-0.6],[1.0505,-1.6],[1.0510,-1.9],[1.0515,-2.3],[1.0520,-2.0],[1.0524,-2.7],[1.0529,-2.4],[1.0534,-2.9],[1.0539,-2.5],[1.0544,-3.1],[1.0549,-2.7],[1.0554,-3.3],[1.0559,-2.8],[1.0563,-3.4],[1.0568,-3.0],[1.0573,-3.6],[1.0578,-3.1],[1.0583,-3.7],[1.0588,-3.2],[1.0593,-3.6],[1.0598,-3.0],[1.0602,-3.4],[1.0607,-2.8],[1.0612,-3.3],[1.0617,-2.6],[1.0622,-3.0],[1.0627,-2.4],[1.0632,-2.9],[1.0637,-2.2],[1.0641,-2.7],[1.0646,-2.3],[1.0651,-2.0],[1.0656,-2.5],[1.0661,-1.8],[1.0666,-1.0],[1.0671,0.6],[1.0676,2.2],[1.0681,3.7],[1.0685,4.2],[1.0690,3.2],[1.0695,1.7],[1.0700,0.2],[1.0705,-1.4],[1.0710,-2.7],[1.0715,-2.0],[1.0720,-2.8],[1.0724,-2.2],[1.0729,-3.2],[1.0734,-4.4],[1.0740,-3.6],[1.0745,-4.2],[1.0750,-3.6]];

const ctrProbe300 = [[0.9998,22.8],[1.0002,23.6],[1.0007,24.4],[1.0012,24.0],[1.0017,23.2],[1.0022,22.4],[1.0027,21.8],[1.0032,21.2],[1.0037,20.8],[1.0041,20.4],[1.0046,20.0],[1.0051,19.6],[1.0056,19.2],[1.0061,18.8],[1.0066,18.4],[1.0071,18.0],[1.0076,17.4],[1.0080,16.9],[1.0085,16.3],[1.0090,15.7],[1.0095,15.1],[1.0100,14.5],[1.0105,14.3],[1.0110,14.1],[1.0115,13.7],[1.0120,13.3],[1.0124,13.5],[1.0129,13.7],[1.0134,13.9],[1.0139,13.7],[1.0144,13.9],[1.0149,14.1],[1.0154,14.3],[1.0159,14.1],[1.0163,13.9],[1.0168,13.7],[1.0173,13.5],[1.0178,13.3],[1.0183,12.9],[1.0188,12.5],[1.0193,12.1],[1.0198,11.7],[1.0203,11.4],[1.0207,11.2],[1.0212,10.8],[1.0217,10.5],[1.0222,10.1],[1.0227,9.7],[1.0232,9.1],[1.0237,8.5],[1.0242,8.1],[1.0246,7.7],[1.0251,7.3],[1.0256,6.9],[1.0261,6.5],[1.0266,6.1],[1.0271,5.3],[1.0276,4.5],[1.0281,4.1],[1.0285,3.7],[1.0290,3.3],[1.0295,2.9],[1.0300,2.5],[1.0305,2.1],[1.0310,1.5],[1.0315,0.9],[1.0320,1.1],[1.0325,1.3],[1.0330,0.9],[1.0334,0.5],[1.0339,0.7],[1.0344,0.1],[1.0349,-0.3],[1.0354,-0.7],[1.0359,-1.1],[1.0364,-1.7],[1.0369,-2.3],[1.0373,-2.9],[1.0378,-3.5],[1.0383,-4.3],[1.0388,-4.0],[1.0393,-4.7],[1.0398,-4.2],[1.0403,-5.0],[1.0408,-5.8],[1.0412,-6.6],[1.0417,-7.2],[1.0422,-7.8],[1.0427,-8.4],[1.0432,-7.8],[1.0437,-8.2],[1.0442,-8.6],[1.0446,-8.0],[1.0451,-8.4],[1.0456,-7.6],[1.0461,-8.2],[1.0466,-8.6],[1.0471,-8.0],[1.0476,-8.4],[1.0481,-7.8],[1.0485,-8.2],[1.0490,-7.4],[1.0495,-6.4],[1.0500,-5.4],[1.0505,-4.4],[1.0510,-3.6],[1.0515,-3.0],[1.0520,-4.0],[1.0524,-4.8],[1.0529,-5.4],[1.0534,-6.0],[1.0539,-5.4],[1.0544,-6.2],[1.0549,-5.6],[1.0554,-6.4],[1.0559,-5.8],[1.0563,-5.2],[1.0568,-6.0],[1.0573,-5.4],[1.0578,-4.8],[1.0583,-5.6],[1.0588,-5.0],[1.0593,-5.8],[1.0598,-5.2],[1.0602,-4.6],[1.0607,-5.4],[1.0612,-4.8],[1.0617,-4.2],[1.0622,-5.0],[1.0627,-4.4],[1.0632,-3.8],[1.0637,-4.6],[1.0641,-4.0],[1.0646,-3.4],[1.0651,-4.2],[1.0656,-3.6],[1.0661,-3.0],[1.0666,-3.8],[1.0671,-3.2],[1.0676,-2.6],[1.0681,-3.4],[1.0685,-2.8],[1.0690,-2.2],[1.0695,-3.0],[1.0700,-2.4],[1.0705,-1.8],[1.0710,-2.6],[1.0715,-2.0],[1.0720,-2.8],[1.0724,-3.4],[1.0729,-2.6],[1.0734,-3.2],[1.0740,-4.0],[1.0745,-3.2],[1.0750,-3.8]];

const ctrProbe50 = [[0.9784,-4.4],[0.9786,-2.0],[0.9790,-3.0],[0.9795,-2.3],[0.9800,-1.0],[0.9805,0.2],[0.9810,1.4],[0.9815,2.9],[0.9820,3.8],[0.9825,4.9],[0.9830,5.8],[0.9835,6.9],[0.9840,8.2],[0.9845,9.3],[0.9850,10.2],[0.9855,10.9],[0.9860,12.2],[0.9865,13.3],[0.9870,14.2],[0.9875,14.9],[0.9880,15.4],[0.9885,15.7],[0.9890,16.3],[0.9895,16.9],[0.9900,17.6],[0.9905,18.4],[0.9910,19.0],[0.9915,19.6],[0.9920,20.4],[0.9925,21.2],[0.9930,21.6],[0.9935,22.0],[0.9940,22.2],[0.9945,22.0],[0.9950,22.8],[0.9955,23.2],[0.9960,23.6],[0.9965,24.4],[0.9970,24.2],[0.9975,24.8],[0.9980,25.2],[0.9985,25.6],[0.9990,26.0],[0.9994,25.4],[0.9998,24.6],[1.0002,24.0],[1.0007,23.2],[1.0012,22.4],[1.0017,21.4],[1.0022,20.4],[1.0027,19.9],[1.0032,19.6],[1.0037,19.2],[1.0041,18.8],[1.0046,18.4],[1.0051,18.0],[1.0056,17.4],[1.0061,16.9],[1.0066,16.2],[1.0071,15.7],[1.0076,14.9],[1.0080,14.1],[1.0085,13.9],[1.0090,13.7],[1.0095,13.1],[1.0100,12.5],[1.0105,12.1],[1.0110,11.7],[1.0115,11.3],[1.0120,10.9],[1.0124,10.5],[1.0129,10.1],[1.0134,9.7],[1.0139,9.3],[1.0144,8.5],[1.0149,7.7],[1.0154,6.9],[1.0159,6.1],[1.0163,6.5],[1.0168,6.9],[1.0173,6.1],[1.0178,5.3],[1.0183,5.6],[1.0188,4.9],[1.0193,5.2],[1.0198,5.3],[1.0203,4.8],[1.0207,5.0],[1.0212,4.5],[1.0217,4.9],[1.0222,4.5],[1.0227,5.1],[1.0232,5.3],[1.0237,4.6],[1.0242,4.1],[1.0246,4.5],[1.0251,3.9],[1.0256,3.7],[1.0261,3.3],[1.0266,3.6],[1.0271,3.1],[1.0276,3.4],[1.0281,2.8],[1.0285,2.5],[1.0290,2.0],[1.0295,1.7],[1.0300,1.9],[1.0305,1.3],[1.0310,1.6],[1.0315,1.0],[1.0320,0.5],[1.0325,0.8],[1.0330,0.1],[1.0334,0.4],[1.0339,-0.3],[1.0344,-0.1],[1.0349,-0.7],[1.0354,-1.1],[1.0359,-0.8],[1.0364,-1.5],[1.0369,-1.2],[1.0373,-1.9],[1.0378,-2.3],[1.0383,-1.8],[1.0388,-2.4],[1.0393,-1.9],[1.0398,-2.7],[1.0403,-2.3],[1.0408,-2.9],[1.0412,-2.5],[1.0417,-3.1],[1.0422,-2.7],[1.0427,-3.3],[1.0432,-3.5],[1.0437,-3.0],[1.0442,-3.6],[1.0446,-3.9],[1.0451,-3.3],[1.0456,-3.6],[1.0461,-3.1],[1.0466,-2.7],[1.0471,-2.3],[1.0476,-2.8],[1.0481,-2.4],[1.0485,-3.0],[1.0490,-2.6],[1.0495,-3.2],[1.0500,-3.6],[1.0505,-3.0],[1.0510,-3.6],[1.0515,-3.2],[1.0520,-3.8],[1.0524,-3.4],[1.0529,-3.9],[1.0534,-3.5],[1.0539,-4.0],[1.0544,-3.6],[1.0549,-3.2],[1.0554,-3.7],[1.0559,-3.3],[1.0563,-3.9],[1.0568,-3.4],[1.0573,-4.1],[1.0578,-3.6],[1.0583,-3.2],[1.0588,-3.8],[1.0593,-3.3],[1.0598,-3.9],[1.0602,-3.5],[1.0607,-3.0],[1.0612,-3.6],[1.0617,-3.1],[1.0622,-2.7],[1.0627,-3.3],[1.0632,-2.9],[1.0637,-3.5],[1.0641,-3.0],[1.0646,-2.6],[1.0651,-3.2],[1.0656,-2.8],[1.0661,-3.4],[1.0666,-3.0],[1.0671,-3.6],[1.0676,-3.2],[1.0681,-3.8],[1.0685,-3.4],[1.0690,-4.2],[1.0695,-3.8],[1.0700,-4.4],[1.0705,-4.9],[1.0710,-5.6],[1.0715,-6.4],[1.0720,-7.2],[1.0725,-8.0],[1.0730,-8.8],[1.0735,-9.4],[1.0740,-9.9],[1.0745,-9.4],[1.0750,-9.8]];

const ctrProbeOhmic = [[0.9475,7.2],[0.9481,6.0],[0.9487,7.0],[0.9493,6.4],[0.9499,7.8],[0.9505,7.2],[0.9511,8.6],[0.9517,8.0],[0.9523,9.4],[0.9529,8.6],[0.9535,10.0],[0.9541,9.4],[0.9547,10.8],[0.9553,9.8],[0.9559,9.0],[0.9565,10.2],[0.9571,9.6],[0.9577,10.6],[0.9582,11.0],[0.9588,10.0],[0.9594,9.0],[0.9600,8.2],[0.9606,7.4],[0.9612,6.6],[0.9618,5.8],[0.9624,5.0],[0.9630,4.0],[0.9636,3.2],[0.9640,2.4],[0.9646,3.6],[0.9652,3.0],[0.9658,3.8],[0.9664,2.8],[0.9670,3.4],[0.9676,2.6],[0.9682,3.2],[0.9688,2.4],[0.9694,3.0],[0.9700,2.0],[0.9706,2.6],[0.9712,1.8],[0.9718,2.4],[0.9724,1.2],[0.9730,1.8],[0.9736,1.0],[0.9742,1.6],[0.9748,0.6],[0.9754,1.2],[0.9760,1.8],[0.9766,1.2],[0.9772,2.0],[0.9778,1.2],[0.9784,0.6],[0.9790,1.0],[0.9796,0.4],[0.9802,0.8],[0.9808,0.0],[0.9814,0.4],[0.9820,-0.4],[0.9826,0.0],[0.9832,-0.6],[0.9838,-0.2],[0.9844,-1.0],[0.9850,-0.8],[0.9856,-1.4],[0.9862,-1.2],[0.9868,-2.0],[0.9874,-2.4],[0.9880,-2.0],[0.9886,-2.8],[0.9892,-2.4],[0.9898,-3.0],[0.9904,-2.6],[0.9910,-3.0],[0.9916,-2.4],[0.9922,-3.2],[0.9928,-2.8],[0.9934,-3.6],[0.9940,-3.0],[0.9946,-3.8],[0.9952,-3.4],[0.9958,-4.2],[0.9964,-5.2],[0.9970,-4.0],[0.9976,-3.0],[0.9982,-2.4],[0.9988,-1.8],[0.9994,-1.2],[1.0000,-0.8],[1.0006,-0.2],[1.0012,0.2],[1.0018,0.6],[1.0024,0.8],[1.0030,1.2],[1.0036,1.8],[1.0042,2.4],[1.0048,3.2],[1.0054,4.0],[1.0060,5.0],[1.0066,6.2],[1.0072,7.4],[1.0078,8.6],[1.0084,9.8],[1.0090,11.0],[1.0096,11.8],[1.0100,12.2],[1.0106,11.4],[1.0112,10.6],[1.0118,10.0],[1.0124,9.4],[1.0130,9.0],[1.0136,8.4],[1.0142,8.0],[1.0148,8.6],[1.0154,9.2],[1.0160,9.6],[1.0166,10.2],[1.0172,10.6],[1.0178,11.0],[1.0184,11.4],[1.0190,11.8],[1.0196,11.4],[1.0202,12.0],[1.0208,12.6],[1.0214,12.2],[1.0220,13.0],[1.0226,13.4],[1.0232,12.8],[1.0238,13.6],[1.0244,14.6],[1.0248,15.4],[1.0252,13.8],[1.0258,12.8],[1.0264,12.0],[1.0270,11.2],[1.0276,10.6],[1.0282,10.0],[1.0288,10.4],[1.0294,9.6],[1.0300,9.8],[1.0306,9.2],[1.0312,9.6],[1.0318,8.8],[1.0324,9.0],[1.0330,8.2],[1.0336,8.6],[1.0342,7.8],[1.0348,8.0],[1.0354,7.4],[1.0360,7.8],[1.0366,7.0],[1.0372,7.4],[1.0378,6.8],[1.0384,7.2],[1.0390,7.6],[1.0396,7.0],[1.0402,7.4],[1.0408,6.6],[1.0414,7.0],[1.0420,6.2],[1.0426,6.4],[1.0432,5.6],[1.0438,5.8],[1.0444,5.2],[1.0450,5.4],[1.0456,4.8],[1.0462,5.0],[1.0468,4.4],[1.0474,4.6],[1.0480,4.0],[1.0486,4.2],[1.0492,3.6],[1.0498,3.8],[1.0504,3.2],[1.0510,3.6],[1.0516,3.0],[1.0522,3.4],[1.0528,2.8],[1.0534,3.0],[1.0540,2.4],[1.0546,2.8],[1.0552,2.2],[1.0558,2.6],[1.0564,2.0],[1.0570,2.4],[1.0576,1.8],[1.0582,2.2],[1.0588,1.6],[1.0594,2.0],[1.0600,1.4],[1.0606,1.8],[1.0612,1.2],[1.0618,1.6],[1.0624,1.0],[1.0630,1.4],[1.0636,0.8],[1.0642,1.2],[1.0648,0.6],[1.0654,1.0],[1.0660,0.4],[1.0666,0.8],[1.0672,0.2],[1.0678,0.6],[1.0684,0.0],[1.0690,0.4],[1.0696,-0.2],[1.0702,0.2],[1.0708,-0.4],[1.0714,0.0],[1.0720,-0.6],[1.0726,-0.2],[1.0732,-0.8],[1.0738,-0.4],[1.0744,-1.0],[1.0750,-0.6]];

// ---------- annotations in the CO panel (psi, km/s) ----------
const circleCenter = [0.98214, 25.08];
const arrowInside = {from: [0.98957, 21.0], to: [0.9747, 29.0]};
const arrowFast = {from: [1.02524, 14.7], to: [0.99997, 38.7]};
const fastLabelAt = [1.01593, 27.19];
const slowLabelAt = [0.93240, 13.36];
const cerLabelAt = [0.91011, 30.22];
const probeLabelAt = [1.02108, 30.17];

// ---------- layout and styling ----------
const plotTop = 65, plotBottom = 652, panelWidth = 589;
const panelLefts = [152, 781, 1409.5];
const titleCenters = [444, 1067, 1699];
const xLabelCenters = [443, 1070, 1699];
const serif = "'DejaVu Serif', serif";
const sans = "'Liberation Sans', Arial, sans-serif";
const textGray = "#333";

const seriesKeys = ["ohmic", "p50", "p300", "p600"];
const seriesColor = {p600: "#ee3322", p300: "#1b8c3d", p50: "#3a4fa6", ohmic: "#22bfc0"};
const seriesShape = {
  p600: "M-6.5,-6.5H6.5V6.5H-6.5Z",
  p300: "M-9.5,-7.5L9.5,-7.5L0,8Z",
  p50: "M0,-10L7.8,0L0,10L-7.8,0Z",
  ohmic: "M-8,0A8,7 0 1,0 8,0A8,7 0 1,0 -8,0Z"
};
const bandColor = "#f3f19b";

const panels = [
  {title: panelTitles[0],
   probe: {ohmic: coProbeOhmic, p50: coProbe50, p300: coProbe300, p600: coProbe600},
   cer: {ohmic: coCerOhmic, p50: coCer50, p300: coCer300, p600: coCer600}},
  {title: panelTitles[1],
   probe: {ohmic: echProbeOhmic, p50: echProbe50, p300: echProbe300, p600: echProbe600},
   cer: {ohmic: echCerOhmic, p50: echCer50, p300: echCer300, p600: echCer600}},
  {title: panelTitles[2],
   probe: {ohmic: ctrProbeOhmic, p50: ctrProbe50, p300: ctrProbe300, p600: ctrProbe600},
   cer: {ohmic: ctrCerOhmic, p50: ctrCer50, p300: ctrCer300, p600: ctrCer600}}
];

const svg = d3.select("#chart");
svg.append("rect").attr("width", 2004).attr("height", 753).attr("fill", "#fff");
const defs = svg.append("defs");

function drawArrow(g, x, y, a) {
  const x1 = x(a.from[0]), y1 = y(a.from[1]);
  const x2 = x(a.to[0]), y2 = y(a.to[1]);
  const ang = Math.atan2(y2 - y1, x2 - x1);
  const ux = Math.cos(ang), uy = Math.sin(ang);
  const nx = -uy, ny = ux;
  const L = 27, hw = 10.5, notch = 8;
  g.append("line")
    .attr("x1", x1).attr("y1", y1)
    .attr("x2", x2 - ux * (L - notch)).attr("y2", y2 - uy * (L - notch))
    .attr("stroke", "#000").attr("stroke-width", 3.2);
  const bx = x2 - ux * L, by = y2 - uy * L;
  const pts = [[x2, y2], [bx + nx * hw, by + ny * hw],
               [x2 - ux * (L - notch), y2 - uy * (L - notch)], [bx - nx * hw, by - ny * hw]];
  g.append("path").attr("d", "M" + pts.map(p => p.join(",")).join("L") + "Z").attr("fill", "#000");
}

panels.forEach((p, i) => {
  const left = panelLefts[i];
  const x = d3.scaleLinear().domain(psiDomain).range([left, left + panelWidth]);
  const y = d3.scaleLinear().domain(velDomain).range([plotBottom, plotTop]);
  const g = svg.append("g");

  defs.append("clipPath").attr("id", "clip" + i)
    .append("rect").attr("x", left).attr("y", plotTop)
    .attr("width", panelWidth).attr("height", plotBottom - plotTop);

  // separatrix band
  g.append("rect")
    .attr("x", x(separatrixBand[0])).attr("y", plotTop)
    .attr("width", x(separatrixBand[1]) - x(separatrixBand[0]))
    .attr("height", plotBottom - plotTop)
    .attr("fill", bandColor);

  // legend background (CTR panel)
  if (i === 2) {
    g.append("rect").attr("x", 1660).attr("y", 81.5)
      .attr("width", 330).attr("height", 236).attr("fill", "#fff");
  }

  const plot = g.append("g").attr("clip-path", `url(#clip${i})`);
  const line = d3.line().x(d => x(d[0])).y(d => y(d[1]));

  seriesKeys.forEach(k => {
    plot.append("path").datum(p.probe[k])
      .attr("d", line)
      .attr("fill", "none")
      .attr("stroke", seriesColor[k])
      .attr("stroke-width", 6)
      .attr("stroke-linejoin", "round")
      .attr("stroke-linecap", "round");
    plot.selectAll(null).data(p.cer[k]).enter().append("path")
      .attr("d", seriesShape[k])
      .attr("transform", d => `translate(${x(d[0])},${y(d[1])})`)
      .attr("fill", seriesColor[k]);
  });

  // zero reference
  g.append("line")
    .attr("x1", left).attr("x2", left + panelWidth)
    .attr("y1", y(0)).attr("y2", y(0))
    .attr("stroke", "#000").attr("stroke-width", 2.6)
    .attr("stroke-dasharray", "13,10");

  // axes with inward ticks
  const styleAxis = sel => {
    sel.select(".domain").remove();
    sel.selectAll(".tick line").attr("stroke", "#000").attr("stroke-width", 2.6);
    sel.selectAll(".tick text").attr("font-family", sans).attr("font-size", 31).attr("fill", "#000");
  };
  g.append("g").attr("transform", `translate(0,${plotBottom})`)
    .call(d3.axisBottom(x).tickValues(xTickValues)
      .tickFormat((d, k) => xTickLabels[k]).tickSizeInner(-14).tickSizeOuter(0).tickPadding(17))
    .call(styleAxis);
  g.append("g").attr("transform", `translate(0,${plotTop})`)
    .call(d3.axisTop(x).tickValues(xTickValues).tickFormat("").tickSizeInner(-14).tickSizeOuter(0))
    .call(styleAxis);
  g.append("g").attr("transform", `translate(${left},0)`)
    .call(d3.axisLeft(y).tickValues(yTickValues)
      .tickFormat(i === 0 ? d3.format("d") : "").tickSizeInner(-14).tickSizeOuter(0).tickPadding(8))
    .call(styleAxis);
  g.append("g").attr("transform", `translate(${left + panelWidth},0)`)
    .call(d3.axisRight(y).tickValues(yTickValues).tickFormat("").tickSizeInner(-14).tickSizeOuter(0))
    .call(styleAxis);

  // frame
  g.append("rect").attr("x", left).attr("y", plotTop)
    .attr("width", panelWidth).attr("height", plotBottom - plotTop)
    .attr("fill", "none").attr("stroke", "#000").attr("stroke-width", 2.8);

  // panel title
  g.append("text").attr("x", titleCenters[i]).attr("y", 50)
    .attr("text-anchor", "middle").attr("font-family", serif).attr("font-size", 41)
    .attr("fill", textGray).text(p.title);

  // x label
  const xl = g.append("text").attr("x", xLabelCenters[i]).attr("y", 741)
    .attr("text-anchor", "middle").attr("font-family", serif).attr("font-size", 41)
    .attr("fill", textGray);
  xl.append("tspan").attr("font-style", "italic").text("ψ");
  xl.append("tspan").text(" normalized");

  if (i === 0) {
    // circle and arrows
    g.append("circle").attr("cx", x(circleCenter[0])).attr("cy", y(circleCenter[1]))
      .attr("r", 58).attr("fill", "none").attr("stroke", "#000").attr("stroke-width", 3.2);
    drawArrow(g, x, y, arrowInside);
    drawArrow(g, x, y, arrowFast);
    g.append("text").attr("x", x(fastLabelAt[0])).attr("y", y(fastLabelAt[1]))
      .attr("font-family", sans).attr("font-size", 44).attr("fill", "#000").text("< 50 ms");
    g.append("text").attr("x", x(slowLabelAt[0])).attr("y", y(slowLabelAt[1]))
      .attr("font-family", sans).attr("font-size", 44).attr("fill", "#000").text("50–600 ms");
  }
  if (i === 1) {
    const cer = g.append("text").attr("x", x(cerLabelAt[0])).attr("y", y(cerLabelAt[1]))
      .attr("font-family", sans).attr("font-size", 44).attr("fill", "#000");
    cer.append("tspan").text("CER C");
    cer.append("tspan").attr("font-size", 29).attr("dy", -13).text("6+");
    g.append("text").attr("x", x(probeLabelAt[0])).attr("y", y(probeLabelAt[1]))
      .attr("font-family", sans).attr("font-size", 44).attr("fill", "#000").text("Probe");
  }
  if (i === 2) {
    const rowsY = [114, 176, 235, 291];
    const legendKeys = ["p600", "p300", "p50", "ohmic"];
    legendKeys.forEach((k, r) => {
      const ly = rowsY[r];
      g.append("line").attr("x1", 1670.5).attr("x2", 1729.5).attr("y1", ly).attr("y2", ly)
        .attr("stroke", seriesColor[k]).attr("stroke-width", 6.5);
      g.append("path").attr("d", seriesShape[k])
        .attr("transform", `translate(1700,${ly}) scale(1.25)`).attr("fill", seriesColor[k]);
      const t = g.append("text").attr("x", 1740).attr("y", ly + 16)
        .attr("font-family", serif).attr("font-size", 35).attr("fill", textGray);
      if (k === "ohmic") {
        t.text(legendLabels[r][0]);
      } else {
        t.append("tspan").text("Δ");
        t.append("tspan").attr("font-style", "italic").text("t");
        t.append("tspan").text(" = " + legendLabels[r][0]);
      }
    });
  }
});

// shared y label
svg.append("text")
  .attr("transform", "translate(51.5,358) rotate(-90)")
  .attr("text-anchor", "middle").attr("font-family", serif).attr("font-size", 41)
  .attr("fill", textGray).text("Toroidal velocity [km/s]");
</script>
</body>
</html>
